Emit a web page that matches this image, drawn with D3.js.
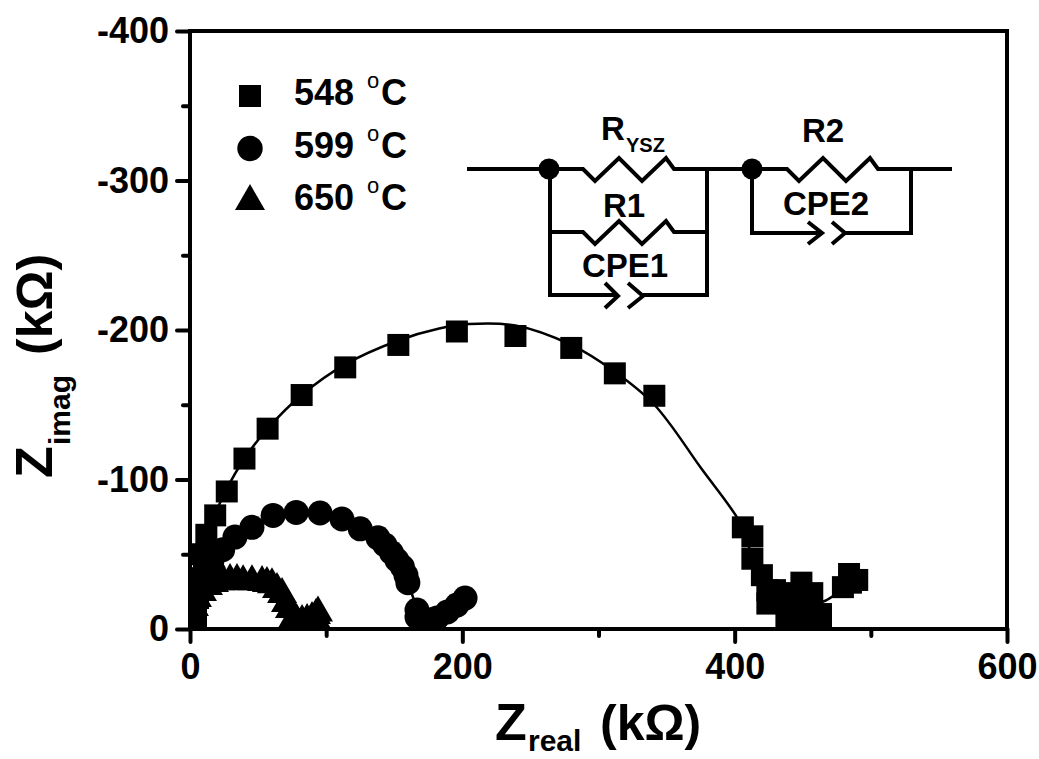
<!DOCTYPE html>
<html><head><meta charset="utf-8">
<script src="https://cdn.jsdelivr.net/npm/d3@7"></script>
<style>html,body{margin:0;padding:0;background:#fff}svg{display:block}text{font-family:"Liberation Sans",Arial,sans-serif;font-weight:bold;fill:#000}</style>
</head><body><svg id="c" width="1039" height="759"></svg>
<script>
const xTicks=[0,200,400,600], xMinor=[100,300,500];
const yTicks=[0,-100,-200,-300,-400], yMinor=[-50,-150,-250,-350];
const squares=[[4.4,-7.4],[5.9,-20.7],[7.3,-34],[10.3,-44.8],[9.5,-50],[12,-63],[18.5,-76],[27,-92],[40,-114],[57,-134],[82,-156.5],[114,-175],[153,-190],[196,-199],[239,-196],[280,-188],[312,-171],[341,-156],[406,-68],[413,-62],[413,-47],[420,-36],[424,-26],[424,-17],[429.6,-26],[429.6,-17.4],[438,-24],[438.4,-14.7],[449,-31],[448,-19.4],[457,-24],[456.8,-16],[456.8,-7.4],[463.4,-10],[463.4,-7.4],[438,-7],[448,-7],[479.5,-28],[484,-36.8],[485.4,-31],[490,-32.8]];
const squareFit=[[0,0],[1,-19],[7,-53],[18,-76],[26,-92],[40,-114],[57,-134],[82,-156.5],[114,-177],[153,-193],[183,-201],[205,-204],[239,-203],[280,-190],[312,-172],[341,-150],[375,-108],[406,-68],[413,-47],[424,-26],[449,-20],[464,-18],[480,-28]];
const circles=[[1.5,-3],[2,-11],[4.4,-19.4],[7,-27],[11,-36],[17.6,-38],[16,-45],[24,-53],[33,-61.5],[45.5,-68],[61,-76],[78,-78],[95.5,-77.6],[111.6,-73.6],[125,-67],[138,-61],[143.2,-56.2],[148,-51],[152,-46],[156,-41.5],[158.6,-36],[160,-31],[166.7,-12.7],[166.7,-8],[171,-6],[176.3,-6],[181.4,-7.4],[189,-11.4],[196,-16],[202,-20.7]];
const triangles=[[1.5,-10.7],[2.9,-16.7],[5.1,-22.7],[8.8,-26.8],[13.2,-30.8],[17.6,-32.8],[22.8,-34],[29.4,-34.8],[34.5,-34.8],[39,-34],[45.5,-34],[52.9,-33.4],[56.5,-32.8],[60.2,-32],[63.9,-28.8],[67.6,-25.4],[70.5,-19.4],[73.4,-15.4],[75.6,-8.7],[78.6,-7.4],[82.3,-7.4],[84.5,-4.7],[86,-8],[89.6,-9.4],[89.6,-4.7],[92.5,-11.4],[94,-13],[94,-6]];
const legendLabels=["548","599","650"];
const circuitWires=[
 [[467,169],[583,169],[595,181],[619,158],[642,181],[666,158],[674,169],[787,169],[799,181],[823,158],[846,181],[870,158],[878,169],[952,169]],
 [[707,169],[707,295],[643,295]],[[550,169],[550,295],[618,295]],
 [[550,232],[583,232],[595,244],[619,221],[642,244],[666,221],[674,232],[707,232]],
 [[605,283],[618,296],[605,308]],[[628,283],[643,296],[628,308]],
 [[752,169],[752,233],[822,233]],[[845,233],[911,233],[911,169]],
 [[808,222],[822,233],[808,244]],[[832,222],[845,233],[832,244]]];
const circuitNodes=[[549,169],[752,169]];
const circuitLabels=[["R",601,140,33],["YSZ",626,152,20],["R1",603,217,33],["CPE1",582,277,33],["R2",802,142,33],["CPE2",783,215,33]];

const svg=d3.select("#c");
const L=190,R=1007,T=31,B=629;
const x=d3.scaleLinear().domain([0,600]).range([L,R]);
const y=d3.scaleLinear().domain([0,-400]).range([B,T]);

svg.append("defs").append("clipPath").attr("id","pl").append("rect").attr("x",L).attr("y",T).attr("width",R-L).attr("height",B-T);
const plot=svg.append("g").attr("clip-path","url(#pl)");
const line=d3.line().x(d=>x(d[0])).y(d=>y(d[1]));
plot.append("path").datum(squareFit).attr("d",line.curve(d3.curveCatmullRom)).attr("fill","none").attr("stroke","#000").attr("stroke-width",2.5);
plot.append("path").datum(circles).attr("d",line).attr("fill","none").attr("stroke","#000").attr("stroke-width",2.5);
const sqP=s=>`M${-s},${-s}H${s}V${s}H${-s}Z`;
const triP=k=>`M0,${-14*k}L${15*k},${12*k}H${-15*k}Z`;
plot.selectAll(".s").data(squares).join("path").attr("d",sqP(11)).attr("transform",d=>`translate(${x(d[0])},${y(d[1])})`);
plot.selectAll(".c").data(circles).join("circle").attr("r",12.5).attr("cx",d=>x(d[0])).attr("cy",d=>y(d[1]));
plot.selectAll(".t").data(triangles).join("path").attr("d",triP(1)).attr("transform",d=>`translate(${x(d[0])},${y(d[1])})`);

const style=g=>{g.select(".domain").remove();g.selectAll("line").attr("stroke","#000").attr("stroke-width",4).attr("stroke-linecap","round");};
svg.append("g").attr("transform",`translate(0,${B})`).call(d3.axisBottom(x).tickValues(xTicks).tickSize(13).tickPadding(11).tickFormat(String)).call(style);
svg.append("g").attr("transform",`translate(0,${B})`).call(d3.axisBottom(x).tickValues(xMinor).tickSize(7).tickFormat("")).call(style);
svg.append("g").attr("transform",`translate(${L},0)`).call(d3.axisLeft(y).tickValues(yTicks).tickSize(13).tickPadding(8).tickFormat(String)).call(style);
svg.append("g").attr("transform",`translate(${L},0)`).call(d3.axisLeft(y).tickValues(yMinor).tickSize(7).tickFormat("")).call(style);
svg.selectAll("g text").style("font-family",'"Liberation Sans"').style("font-weight","bold").style("font-size","36px").attr("fill","#000");
svg.append("rect").attr("x",L).attr("y",T).attr("width",R-L).attr("height",B-T).attr("fill","none").attr("stroke","#000").attr("stroke-width",4);

// titles
const xt=svg.append("g").attr("transform","translate(495,740)");
const yt=svg.append("g").attr("transform","translate(52,478) rotate(-90)");
[xt,yt].forEach((g,i)=>{
 g.append("text").text("Z").style("font-size","52px");
 g.append("text").text(i?"imag":"real").attr("x",33).attr("y",i?18:11).style("font-size","30px");
 g.append("text").text("(kΩ)").attr("x",i?123:105).style("font-size","50px");
});

// legend
const lx=250, lys=[96,148.5,198], lb=[105,158,210];
svg.append("path").attr("d",sqP(11)).attr("transform",`translate(${lx},${lys[0]})`);
svg.append("circle").attr("r",12.7).attr("cx",lx).attr("cy",lys[1]);
svg.append("path").attr("d",triP(1)).attr("transform",`translate(${lx},${lys[2]})`);
legendLabels.forEach((t,i)=>{
 svg.append("text").attr("x",294).attr("y",lb[i]).style("font-size","36px").text(t);
 svg.append("text").attr("x",367).attr("y",lb[i]-17).style("font-size","22px").style("font-weight","normal").text("o");
 svg.append("text").attr("x",381).attr("y",lb[i]).style("font-size","36px").text("C");
});

// circuit
const cl=d3.line();
svg.selectAll(".w").data(circuitWires).join("path").attr("d",d=>cl(d)).attr("fill","none").attr("stroke","#000").attr("stroke-width",4);
svg.selectAll(".n").data(circuitNodes).join("circle").attr("cx",d=>d[0]).attr("cy",d=>d[1]).attr("r",10.5);
svg.selectAll(".l").data(circuitLabels).join("text").attr("x",d=>d[1]).attr("y",d=>d[2]).style("font-size",d=>d[3]+"px").text(d=>d[0]);
</script></body></html>
